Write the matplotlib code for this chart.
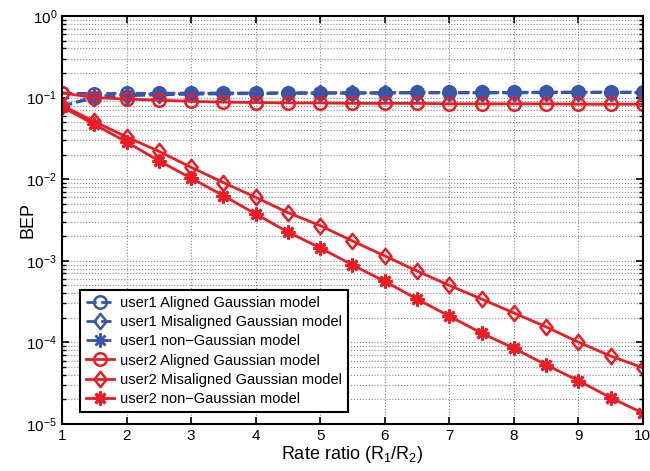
import matplotlib.pyplot as plt
import numpy as np
from matplotlib.path import Path
from matplotlib.ticker import LogLocator, NullFormatter

plt.rcParams['font.family'] = ['Liberation Sans', 'DejaVu Sans']
plt.rcParams['mathtext.fontset'] = 'custom'
plt.rcParams['mathtext.rm'] = 'Liberation Sans'

# rate ratio R1/R2
ratio = [1, 1.5, 2, 2.5, 3, 3.5, 4, 4.5, 5, 5.5, 6, 6.5, 7, 7.5, 8, 8.5, 9, 9.5, 10]

# user1 curves (stay near 1e-1)
u1_aligned = [0.114, 0.112, 0.113, 0.113, 0.114, 0.114, 0.114, 0.115, 0.115, 0.115,
              0.115, 0.116, 0.116, 0.116, 0.116, 0.117, 0.117, 0.117, 0.117]
u1_misaligned = [0.080, 0.098, 0.105, 0.108, 0.110, 0.111, 0.112, 0.112, 0.113, 0.113,
                 0.113, 0.114, 0.114, 0.114, 0.114, 0.115, 0.115, 0.115, 0.115]
u1_nongauss = [0.077, 0.104, 0.109, 0.111, 0.112, 0.113, 0.113, 0.114, 0.114, 0.114,
               0.115, 0.115, 0.115, 0.115, 0.116, 0.116, 0.116, 0.116, 0.116]

# user2 curves
u2_aligned = [0.114, 0.100, 0.096, 0.093, 0.090, 0.088, 0.087, 0.086, 0.086, 0.085,
              0.085, 0.085, 0.084, 0.084, 0.084, 0.084, 0.083, 0.083, 0.083]
u2_misaligned = [0.080, 0.051, 0.033, 0.022, 0.0140, 0.0091, 0.0060, 0.0039, 0.0027, 0.00175,
                 0.00115, 7.5e-4, 5.0e-4, 3.4e-4, 2.3e-4, 1.55e-4, 1.01e-4, 6.8e-5, 4.9e-5]
u2_nongauss = [0.077, 0.047, 0.0286, 0.0168, 0.0103, 0.0063, 0.00375, 0.00225, 0.00144, 8.9e-4,
               5.6e-4, 3.4e-4, 2.1e-4, 1.3e-4, 8.5e-5, 5.3e-5, 3.4e-5, 2.1e-5, 1.36e-5]

blue = '#3b55a6'
red = '#ec1c24'
star = (8, 2, 0)
# slightly tall diamond, like matlab's 'd'
diamond = Path([(0, 1), (0.8, 0), (0, -1), (-0.8, 0), (0, 1)],
               [Path.MOVETO, Path.LINETO, Path.LINETO, Path.LINETO, Path.CLOSEPOLY])

fig = plt.figure(figsize=(6.5, 4.71), dpi=100)
ax = fig.add_axes([0.0954, 0.0998, 0.8936, 0.8662])

ax.plot(ratio, u1_aligned, '--', color=blue, lw=2, marker='o', ms=9, mfc='none', mew=1.8,
        label='user1 Aligned Gaussian model')
ax.plot(ratio, u1_misaligned, '--', color=blue, lw=2, marker=diamond, ms=11, mfc='none', mew=1.8,
        label='user1 Misaligned Gaussian model')
ax.plot(ratio, u1_nongauss, '--', color=blue, lw=2, marker=star, ms=10, mew=1.8,
        label='user1 non\u2212Gaussian model')
ax.plot(ratio, u2_aligned, '-', color=red, lw=2, marker='o', ms=9, mfc='none', mew=1.8,
        label='user2 Aligned Gaussian model')
ax.plot(ratio, u2_misaligned, '-', color=red, lw=2, marker=diamond, ms=11, mfc='none', mew=1.8,
        label='user2 Misaligned Gaussian model')
ax.plot(ratio, u2_nongauss, '-', color=red, lw=2, marker=star, ms=10, mew=2,
        label='user2 non\u2212Gaussian model')

ax.set_yscale('log')
ax.set_xlim(1, 10)
ax.set_ylim(1e-5, 1)
ax.set_xticks(range(1, 11))
ax.yaxis.set_major_locator(LogLocator(base=10, numticks=10))
ax.yaxis.set_minor_locator(LogLocator(base=10, subs=np.arange(2, 10), numticks=20))
ax.yaxis.set_minor_formatter(NullFormatter())

ax.grid(True, which='major', ls=':', color='#888888', lw=0.8)
ax.grid(True, which='minor', axis='y', ls=':', color='#888888', lw=0.8)
ax.tick_params(which='both', direction='in', top=True, right=True, labelsize=11)
ax.tick_params(which='major', length=5, width=1.2)
ax.tick_params(which='minor', length=3, width=1)
for s in ax.spines.values():
    s.set_linewidth(1.5)

ax.set_xlabel('Rate ratio (R$_1$/R$_2$)', fontsize=13, labelpad=1)
ax.set_ylabel('BEP', fontsize=13, labelpad=-7)

leg = ax.legend(loc='lower left', bbox_to_anchor=(0.031, 0.029), borderaxespad=0,
                fontsize=10.5, frameon=True, fancybox=False, edgecolor='black',
                framealpha=1, handlelength=1.9, borderpad=0.42, labelspacing=0.36,
                handletextpad=0.4)
leg.get_frame().set_linewidth(1.5)

fig.savefig('out.png', dpi=100)
